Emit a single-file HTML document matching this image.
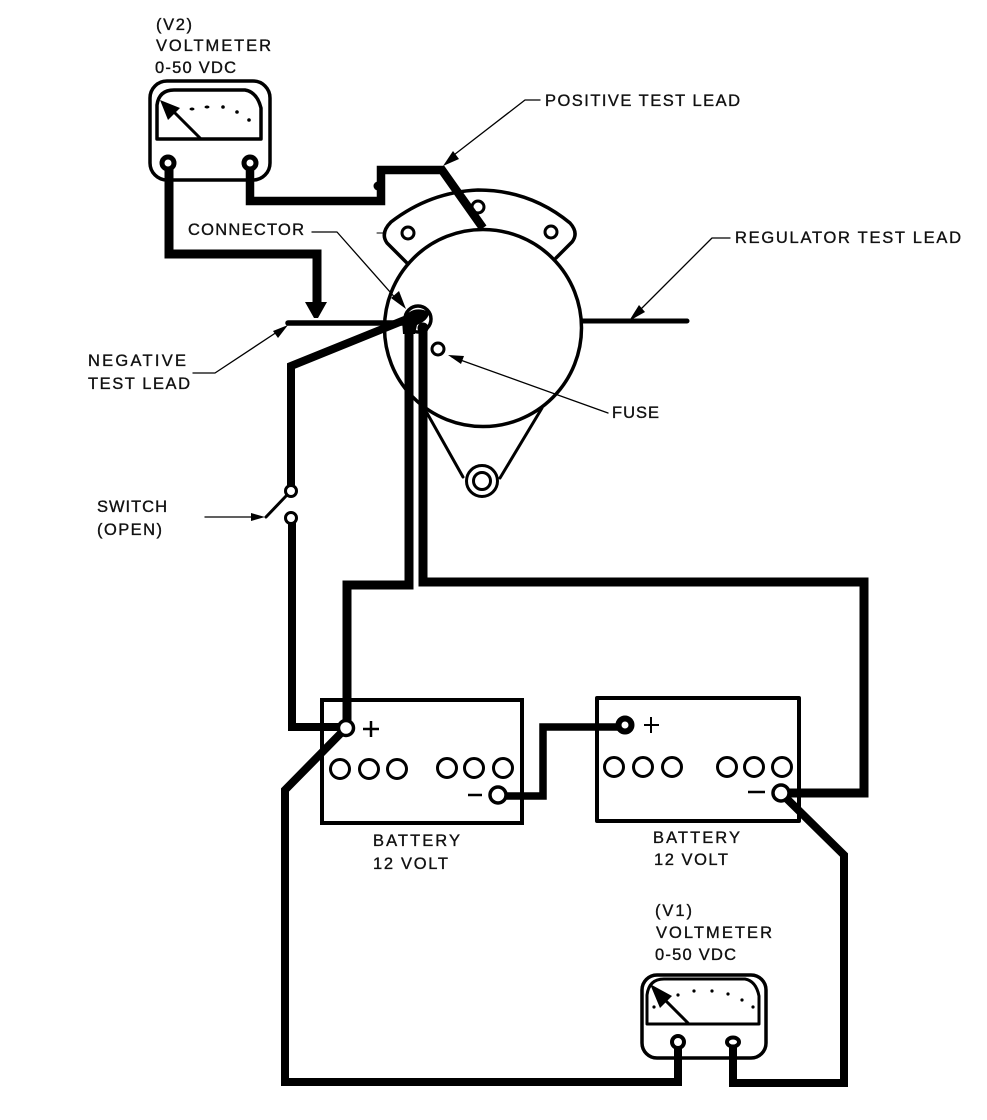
<!DOCTYPE html>
<html>
<head>
<meta charset="utf-8">
<style>
html,body{margin:0;padding:0;background:#fff}
svg{display:block}
text{font-family:"Liberation Sans",sans-serif;font-size:16.5px;fill:#111;stroke:#111;stroke-width:.35px}
</style>
</head>
<body>
<svg width="987" height="1120" viewBox="0 0 987 1120" xmlns="http://www.w3.org/2000/svg">
<rect width="987" height="1120" fill="#fff"/>
<g fill="none" stroke="#000" stroke-linejoin="round" stroke-linecap="round">
  <!-- Alternator -->
  <circle cx="483" cy="328" r="98.5" stroke-width="3.5"/>
  <path d="M407 263 L387 243 Q380 233 391 222 Q430 192 478 190 Q530 190 570 223 Q579 233 572 242 L556 258" stroke-width="3.5"/>
  <path d="M377 233H383" stroke-width="1"/>
  <circle cx="408" cy="233" r="6" stroke-width="3"/>
  <circle cx="478" cy="207" r="6" stroke-width="3"/>
  <circle cx="551" cy="232" r="6" stroke-width="3"/>
  <circle cx="438" cy="349" r="6" stroke-width="3"/>
  <path d="M427 413L463 477M542 408L500 478" stroke-width="3"/>
  <circle cx="482" cy="481" r="15.5" stroke-width="3" fill="#fff"/>
  <circle cx="482" cy="481" r="8.5" stroke-width="3"/>
  <circle cx="418" cy="319" r="13" stroke-width="3.5" fill="#fff"/>

  <!-- Leads -->
  <path d="M583 321H687" stroke-width="5"/>
  <path d="M288 323H403" stroke-width="5.5"/>
  <path d="M169 163V254H317V304" stroke-width="9" stroke-linecap="butt" stroke-linejoin="miter"/>
  <path d="M250 163V201H381V170H442L483 228" stroke-width="8.5" stroke-linecap="butt" stroke-linejoin="miter"/>
  <circle cx="378" cy="186" r="4.5" fill="#000" stroke="none"/>
  <path d="M291 491V366L412 317" stroke-width="8" stroke-linecap="butt" stroke-linejoin="miter"/>
  <path d="M292 518V727H346" stroke-width="8" stroke-linecap="butt" stroke-linejoin="miter"/>
  <path d="M409 322V585H347V728" stroke-width="9" stroke-linecap="butt" stroke-linejoin="miter"/>
  <path d="M423 328V582H864V793H781" stroke-width="9" stroke-linecap="butt" stroke-linejoin="miter"/>
  <path d="M346 728L285 790V1082H678V1042" stroke-width="8" stroke-linecap="butt" stroke-linejoin="miter"/>
  <path d="M781 793L844 855V1083H733V1042" stroke-width="8" stroke-linecap="butt" stroke-linejoin="miter"/>
  <path d="M498 796H543V727H625" stroke-width="7.5" stroke-linecap="butt" stroke-linejoin="miter"/>
  <path d="M402 320Q412 304 429 312Q429 320 417 325L415 334H403Z" fill="#000" stroke="none"/>
  <circle cx="423" cy="328" r="5.5" fill="#000" stroke="none"/>

  <!-- Arrow on V2 lead -->
  <path d="M305 302L327 302L318 318H314Z" fill="#000" stroke="none"/>

  <!-- Batteries -->
  <rect x="322" y="700" width="200" height="123" stroke-width="4" stroke-linejoin="miter"/>
  <rect x="597" y="698" width="202" height="123" stroke-width="4"/>
  <g stroke-width="3" fill="#fff">
    <circle cx="340" cy="769" r="9.5"/><circle cx="369" cy="769" r="9.5"/><circle cx="397" cy="769" r="9.5"/>
    <circle cx="447" cy="768" r="9.5"/><circle cx="474" cy="768" r="9.5"/><circle cx="503" cy="768" r="9.5"/>
    <circle cx="614" cy="767" r="9.5"/><circle cx="643" cy="767" r="9.5"/><circle cx="672" cy="767" r="9.5"/>
    <circle cx="727" cy="767" r="9.5"/><circle cx="754" cy="767" r="9.5"/><circle cx="782" cy="767" r="9.5"/>
  </g>
  <path d="M363 729H379M371 721V737" stroke-width="2.5" stroke-linecap="butt"/>
  <path d="M644 725H659M651 717V733" stroke-width="2" stroke-linecap="butt"/>
  <path d="M468 795H482" stroke-width="2.5" stroke-linecap="butt"/>
  <path d="M748 792H765" stroke-width="2.5" stroke-linecap="butt"/>
  <circle cx="346" cy="728" r="7.5" stroke-width="3.5" fill="#fff"/>
  <circle cx="498" cy="795" r="8" stroke-width="3.5" fill="#fff"/>
  <circle cx="625" cy="725" r="6.5" stroke-width="6" fill="#fff"/>
  <circle cx="781" cy="793" r="8" stroke-width="3.5" fill="#fff"/>

  <!-- Switch -->
  <circle cx="291" cy="491" r="5.5" stroke-width="3" fill="#fff"/>
  <circle cx="291" cy="518" r="5.5" stroke-width="3" fill="#fff"/>
  <path d="M287 495L266 517" stroke-width="3"/>

  <!-- Voltmeter V2 -->
  <rect x="150" y="81" width="120" height="99" rx="17" stroke-width="3.5"/>
  <path d="M157 139V105Q159 90 174 90H245Q257 92 261 108V139Z" stroke-width="3.5"/>
  <path d="M200 138L170 108" stroke-width="3"/>
  <path d="M160 100L180 108L168 120Z" fill="#000" stroke="none"/>
  <g fill="#000" stroke="none">
    <ellipse cx="192" cy="109" rx="2.5" ry="1.5"/><ellipse cx="207" cy="107" rx="2.5" ry="1.5"/>
    <circle cx="223" cy="107" r="1.8"/><circle cx="237" cy="112" r="1.8"/><circle cx="249" cy="120" r="1.8"/>
  </g>
  <circle cx="168" cy="163" r="6" stroke-width="5" fill="#fff"/>
  <circle cx="250" cy="163" r="6" stroke-width="5" fill="#fff"/>

  <!-- Voltmeter V1 -->
  <rect x="642" y="975" width="124" height="83" rx="15" stroke-width="3.5"/>
  <path d="M647 1024V995Q649 979 664 979H745Q756 981 759 996V1024Z" stroke-width="3"/>
  <path d="M688 1023L660 995" stroke-width="3"/>
  <path d="M650 984L672 996L660 1008Z" fill="#000" stroke="none"/>
  <g fill="#000" stroke="none">
    <circle cx="654" cy="1007" r="1.6"/><circle cx="678" cy="995" r="1.6"/><circle cx="694" cy="991" r="1.6"/>
    <circle cx="712" cy="991" r="1.6"/><circle cx="728" cy="994" r="1.6"/><circle cx="742" cy="1000" r="1.6"/><circle cx="753" cy="1007" r="1.6"/>
  </g>
  <circle cx="678" cy="1042" r="6" stroke-width="4" fill="#fff"/>
  <ellipse cx="733" cy="1042" rx="6" ry="4.5" stroke-width="4" fill="#fff"/>

  <!-- Leader lines -->
  <g stroke-width="1.3">
    <path d="M540 100H525L450 158"/>
    <path d="M730 238H712L636 314"/>
    <path d="M312 232H337L398 301"/>
    <path d="M193 373H215L280 330"/>
    <path d="M608 413L452 357"/>
    <path d="M205 517H258"/>
  </g>
  <g fill="#000" stroke="none">
    <path d="M443 166L453 151L459 159Z"/>
    <path d="M629 321L639 305L645 312Z"/>
    <path d="M406 309L391 298L399 291Z"/>
    <path d="M288 325L278 338L273 331Z"/>
    <path d="M448 355L464 356L461 364Z"/>
    <path d="M265 517L251 513V521Z"/>
  </g>
</g>

<!-- Labels -->
<text x="156" y="30" textLength="36" lengthAdjust="spacing">(V2)</text>
<text x="156" y="51" textLength="115" lengthAdjust="spacing">VOLTMETER</text>
<text x="155" y="73" textLength="81" lengthAdjust="spacing">0-50 VDC</text>
<text x="545" y="106" textLength="195" lengthAdjust="spacing">POSITIVE TEST LEAD</text>
<text x="735" y="243" textLength="226" lengthAdjust="spacing">REGULATOR TEST LEAD</text>
<text x="188" y="235" textLength="116" lengthAdjust="spacing">CONNECTOR</text>
<text x="88" y="366" textLength="98" lengthAdjust="spacing">NEGATIVE</text>
<text x="88" y="389" textLength="102" lengthAdjust="spacing">TEST LEAD</text>
<text x="612" y="418" textLength="47" lengthAdjust="spacing">FUSE</text>
<text x="97" y="512" textLength="70" lengthAdjust="spacing">SWITCH</text>
<text x="97" y="535" textLength="65" lengthAdjust="spacing">(OPEN)</text>
<text x="373" y="846" textLength="87" lengthAdjust="spacing">BATTERY</text>
<text x="373" y="869" textLength="75" lengthAdjust="spacing">12 VOLT</text>
<text x="653" y="843" textLength="87" lengthAdjust="spacing">BATTERY</text>
<text x="654" y="865" textLength="74" lengthAdjust="spacing">12 VOLT</text>
<text x="655" y="916" textLength="37" lengthAdjust="spacing">(V1)</text>
<text x="656" y="938" textLength="116" lengthAdjust="spacing">VOLTMETER</text>
<text x="655" y="960" textLength="81" lengthAdjust="spacing">0-50 VDC</text>
</svg>
</body>
</html>
